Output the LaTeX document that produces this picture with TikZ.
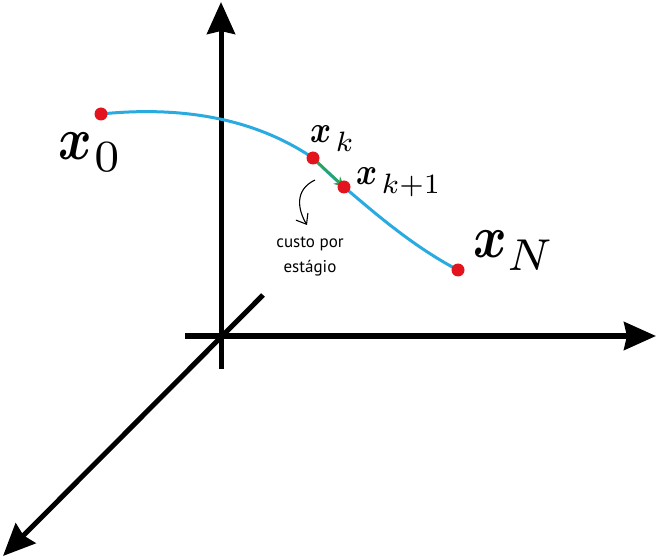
\documentclass[tikz,border=0pt]{standalone}
\usepackage{amsmath}
\usepackage{amssymb}
\usepackage{graphicx}
\usepackage{fontspec}
\newfontfamily\notefont{PT Sans}
\usepackage{tikz}
\usetikzlibrary{arrows.meta, positioning, calc}
\definecolor{curveblue}{RGB}{41,171,226}
\definecolor{dotred}{RGB}{226,20,30}
\definecolor{stepgreen}{RGB}{45,165,85}
\newcommand{\bx}{\scalebox{1}[1.18]{$\boldsymbol{x}$}}
\newcommand{\sub}[1]{\scalebox{1.25}{$\scriptstyle #1$}}

\begin{document}
\begin{tikzpicture}[
		x=1pt, y=-1pt,
		axis/.style={line width=5pt, -{Stealth[length=32pt, width=28pt, inset=3pt]}},
		curve/.style={line width=3pt, draw=curveblue},
		dot/.style={circle, fill=dotred, inner sep=0pt, minimum size=13pt},
		lbl/.style={anchor=base west, inner sep=0pt, font=\normalsize},
		note/.style={align=center, inner sep=0pt, font=\notefont\fontsize{17}{25}\selectfont}
		]
		\useasboundingbox (0,0) rectangle (657,559);
		
		% Eixos
		\coordinate (ybot) at (221,369);
		\coordinate (ytop) at (221,2);
		\coordinate (xleft) at (185,336);
		\coordinate (xright) at (656,336);
		\coordinate (zback) at (263,295);
		\coordinate (zfront) at (3,556);
		\draw[axis] (ybot) -- (ytop);
		\draw[axis] (xleft) -- (xright);
		\draw[axis] (zback) -- (zfront);
		
		% Pontos
		\coordinate (x0) at (101,114);
		\coordinate (xk) at (313,158);
		\coordinate (xk1) at (344,187);
		\coordinate (xN) at (458,270);
		
		% Trajetoria
		\draw[curve] (x0) .. controls (190,105) and (260,122) .. (xk)
			.. controls (325,170) and (333,177) .. (xk1)
			.. controls (368,207) and (410,245) .. (xN);
		\draw[line width=2.5pt, draw=stepgreen, -{Stealth[length=10pt, width=10pt]}] (xk) -- (xk1);
		\node[dot] (p0) at (x0) {};
		\node[dot] (pk) at (xk) {};
		\node[dot] (pk1) at (xk1) {};
		\node[dot] (pN) at (xN) {};
		
		% Rotulos
		\node[lbl] (lbl0) at (58,160) {\scalebox{5.1}{$\bx_{\mkern1mu\sub{0}}$}};
		\node[lbl] (lblk) at (310,143) {\scalebox{3.2}{$\bx_{\mkern3mu\sub{k}}$}};
		\node[lbl] (lblk1) at (356,185) {\scalebox{3.2}{$\bx_{\mkern3mu\sub{k+1}}$}};
		\node[lbl] (lblN) at (473,258) {\scalebox{5.1}{$\bx_{\mkern0mu\sub{N}}$}};
		
		% Custo por estagio
		\node[note] (cost) at (310,257) {custo por\\estágio};
		\coordinate (cstart) at (315,180);
		\coordinate (cend) at (307,225);
		\draw[line width=1.1pt, -{Straight Barb[length=9pt, width=14pt]}] (cstart) .. controls (294,190) and (298,210) .. (cend);
	\end{tikzpicture}
\end{document}
